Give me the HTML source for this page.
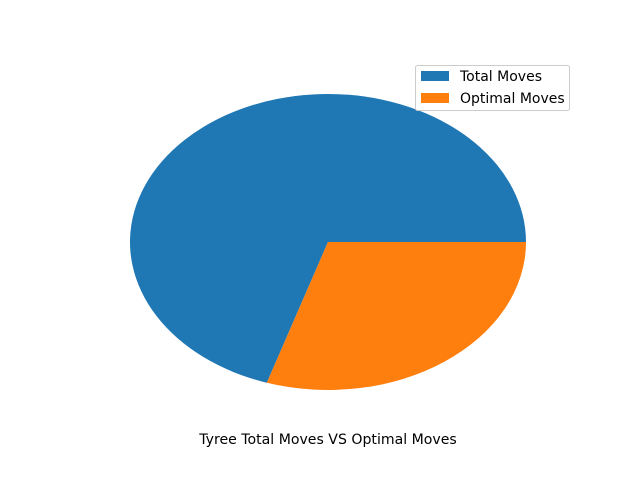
<!DOCTYPE html>
<html><head><meta charset="utf-8"><style>
html,body{margin:0;padding:0;background:#fff;}
svg{display:block;font-family:"DejaVu Sans","Liberation Sans",sans-serif;}
</style></head><body>
<svg id="chart" width="640" height="480">
<rect width="640" height="480" fill="#fff"/>
<g id="slices"></g>
<text x="328" y="444" text-anchor="middle" font-size="14.1" fill="#000">Tyree Total Moves VS Optimal Moves</text>
<g>
<rect x="415.5" y="65.5" width="154" height="45" rx="2" fill="#fff" stroke="#ccc"/>
<g id="legend-entries"></g>
</g>
</svg>
<script>
const labels = ["Total Moves", "Optimal Moves"];
const values = [70, 30];
const colors = ["#1f77b4", "#ff7f0e"];
const cx = 328, cy = 242, rx = 198, ry = 148;
const total = values.reduce((a,b)=>a+b,0);
const g = document.getElementById('slices');
const ns = "http://www.w3.org/2000/svg";
let a0 = 0;
values.forEach((v,i)=>{
  const a1 = a0 + v/total*2*Math.PI;
  const x0 = cx + rx*Math.cos(a0), y0 = cy - ry*Math.sin(a0);
  const x1 = cx + rx*Math.cos(a1), y1 = cy - ry*Math.sin(a1);
  const large = (a1-a0) > Math.PI ? 1 : 0;
  const p = document.createElementNS(ns,'path');
  p.setAttribute('d', `M${cx},${cy} L${x0},${y0} A${rx},${ry} 0 ${large} 0 ${x1},${y1} Z`);
  p.setAttribute('fill', colors[i]);
  
  
  g.appendChild(p);
  a0 = a1;
});
const lg = document.getElementById('legend-entries');
labels.forEach((l,i)=>{
  const y = 71 + i*22;
  const r = document.createElementNS(ns,'rect');
  r.setAttribute('x', 421); r.setAttribute('y', y); r.setAttribute('width', 28); r.setAttribute('height', 10);
  r.setAttribute('fill', colors[i]);
  
  
  lg.appendChild(r);
  const t = document.createElementNS(ns,'text');
  t.setAttribute('x', 460); t.setAttribute('y', y+10);
  t.setAttribute('font-size', '14');
  t.textContent = l;
  
  
  lg.appendChild(t);
});
</script>
</body></html>
